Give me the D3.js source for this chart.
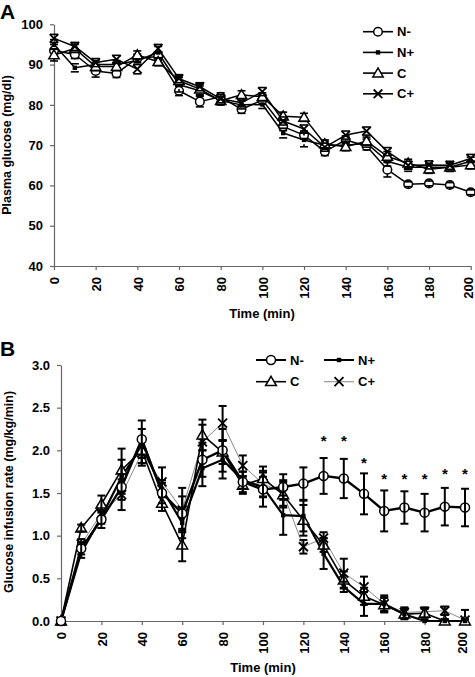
<!DOCTYPE html>
<html><head><meta charset="utf-8">
<script src="https://cdn.jsdelivr.net/npm/d3@7"></script>
<style>body{margin:0;background:#fff}svg{display:block;font-family:"Liberation Sans",Arial,sans-serif}</style>
</head><body>
<script>
const times = [0,10,20,30,40,50,60,70,80,90,100,110,120,130,140,150,160,170,180,190,200];
const xTicks = [0,20,40,60,80,100,120,140,160,180,200];
const seriesNames = ["N-","N+","C","C+"];

// Panel A: plasma glucose (mg/dl)
const glucoseNminus = [93.5,92.5,88.4,87.8,91.6,92,83.5,80.8,82,78.9,81.2,74.6,72.5,68.4,71.3,69.8,63.9,60.3,60.5,60.1,58.3];
const glucoseNplus  = [95,89.2,90,90,91,93,85,83.5,81,80,80.1,73,71.3,70,70,70.5,66,64.5,64.5,64.5,66];
const glucoseC      = [92.4,94,89.5,89.5,92.4,90.7,86,83.9,81,82.5,82,77.2,76.9,70.3,69.6,71,67.2,65.5,64,64.5,65.1];
const glucoseCplus  = [96.5,94.5,90.5,91.3,88.9,94,86.5,84.5,81.5,80.5,83.3,76,74,69.5,72.5,73.5,68.4,65,65.1,65,66.7];
const glucoseSemNminus = [1.5,1,1.5,1,1,1,1.2,1.3,1,1,1,1,1,1,1,1,1.8,0.6,0.6,0.6,0.6];
const glucoseSemNplus  = [1.2,1,1,1,1,1.5,1.8,1.2,1,1,1,1.2,1.7,1,1,1,1.2,1,1,1,1];
const glucoseSemC      = [1.5,1,1,1,1,1,1.2,1.3,1,1,1,1,1,1,1,1,1.2,1,1,1,1];
const glucoseSemCplus  = [1,1,1,1,1.2,1,1,1,1,1,1,1,1,1,1,1,1,1,1,1,1];
const glucoseTicks = [40,50,60,70,80,90,100];

// Panel B: glucose infusion rate (mg/kg/min)
const girNminus = [0,0.85,1.19,1.57,2.13,1.5,1.26,1.89,2.0,1.63,1.54,1.57,1.61,1.70,1.67,1.49,1.29,1.33,1.27,1.34,1.33];
const girNplus  = [0,0.8,1.22,1.69,2.05,1.55,1.15,1.79,1.89,1.65,1.57,1.24,1.23,0.79,0.40,0.2,0.2,0.08,0,0,0];
const girC      = [0,1.09,1.37,1.77,2.0,1.38,0.89,2.18,1.98,1.59,1.67,1.48,1.18,0.89,0.48,0.29,0.19,0.08,0.09,0,0];
const girCplus  = [0,0.9,1.26,1.48,1.97,1.63,1.3,2.1,2.32,1.82,1.61,1.5,0.87,0.97,0.56,0.40,0.2,0.1,0.11,0.12,0.01];
const girSemNminus = [0,0.07,0.1,0.15,0.22,0.12,0.2,0.2,0.25,0.12,0.2,0.15,0.19,0.21,0.23,0.24,0.24,0.19,0.22,0.22,0.22];
const girSemNplus  = [0,0.06,0.08,0.2,0.2,0.1,0.18,0.21,0.22,0.1,0.12,0.23,0.18,0.18,0.06,0.14,0.08,0.05,0.02,0.02,0.02];
const girSemC      = [0,0.04,0.1,0.25,0.15,0.09,0.19,0.18,0.14,0.1,0.14,0.15,0.18,0.08,0.1,0.1,0.08,0.06,0.05,0.02,0.02];
const girSemCplus  = [0,0.06,0.1,0.18,0.15,0.17,0.26,0.2,0.2,0.12,0.15,0.15,0.08,0.07,0.17,0.12,0.1,0.06,0.05,0.05,0.12];
const girTicks = [0,0.5,1.0,1.5,2.0,2.5,3.0];
const sigTimes = [130,140,150,160,170,180,190,200];
const sigLevels = [2.17,2.17,1.92,1.73,1.73,1.73,1.79,1.79];

const W = 475, H = 677;
const svg = d3.select("body").append("svg").attr("width", W).attr("height", H);
const axisColor = "#666";

function marker(g, type, size) {
  const s = size;
  if (type === "N-") g.append("circle").attr("r", s).attr("fill", "#fff").attr("stroke", "#000").attr("stroke-width", 1.5);
  else if (type === "N+") g.append("rect").attr("x", -2.2).attr("y", -2.2).attr("width", 4.4).attr("height", 4.4).attr("fill", "#000");
  else if (type === "C") g.append("path").attr("d", d3.symbol(d3.symbolTriangle, s * s * 2.5)()).attr("transform", "translate(0,0.8)").attr("fill", "#fff").attr("stroke", "#000").attr("stroke-width", 1.5);
  else g.append("path").attr("d", `M${-s},${-s}L${s},${s}M${-s},${s}L${s},${-s}`).attr("stroke", "#000").attr("stroke-width", 1.8).attr("fill", "none");
}

function panel(cfg) {
  const x = d3.scaleLinear().domain([0, 200]).range([cfg.left, cfg.right]);
  const y = d3.scaleLinear().domain(cfg.domain).range([cfg.bottom, cfg.top]);
  const g = svg.append("g");

  const ya = g.append("g").attr("transform", `translate(${cfg.left},0)`)
    .call(d3.axisLeft(y).tickValues(cfg.yTicks).tickFormat(cfg.yFmt).tickSize(4).tickSizeOuter(0).tickPadding(7));
  ya.select(".domain").attr("stroke", axisColor).attr("stroke-width", 1.2);
  ya.selectAll(".tick line").attr("stroke", axisColor).attr("stroke-width", 1.2);
  ya.selectAll("text").attr("font-size", 13).attr("font-weight", "bold").attr("fill", "#000").attr("font-family", "Liberation Sans, Arial");

  const xa = g.append("g").attr("transform", `translate(0,${cfg.bottom})`)
    .call(d3.axisBottom(x).tickValues(xTicks).tickSize(4).tickSizeOuter(0));
  xa.select(".domain").attr("stroke", axisColor).attr("stroke-width", 1.2);
  xa.selectAll(".tick line").attr("stroke", axisColor).attr("stroke-width", 1.2);
  xa.selectAll("text").attr("font-size", 13).attr("font-weight", "bold").attr("fill", "#000")
    .attr("font-family", "Liberation Sans, Arial")
    .attr("text-anchor", "end").attr("transform", "rotate(-90)")
    .attr("x", -11).attr("y", 0).attr("dy", (d) => d === 200 ? "0.15em" : "0.36em");

  g.append("text").attr("x", cfg.xTitleX).attr("y", cfg.xTitleY).attr("text-anchor", "middle")
    .attr("font-size", 13).attr("font-weight", "bold").text("Time (min)");
  g.append("text").attr("transform", `translate(${cfg.yTitleX},${cfg.yTitleY}) rotate(-90)`).attr("text-anchor", "middle")
    .attr("font-size", cfg.yTitleSize).attr("font-weight", "bold").text(cfg.yTitle);
  g.append("text").attr("x", 0).attr("y", cfg.letterY).attr("font-size", 21).attr("font-weight", "bold").text(cfg.letter);

  const line = d3.line().x((d, i) => x(times[i])).y(d => y(d));
  cfg.series.forEach(s => {
    g.append("path").datum(s.values).attr("d", line).attr("fill", "none")
      .attr("stroke", s.stroke).attr("stroke-width", s.width).attr("stroke-linejoin", "round");
  });
  cfg.series.forEach(s => {
    s.values.forEach((v, i) => {
      const mg = g.append("g").attr("transform", `translate(${x(times[i])},${y(v)})`);
      marker(mg, s.name, cfg.msize);
    });
    s.values.forEach((v, i) => {
      const e = s.sem[i];
      if (!e) return;
      const cx = x(times[i]);
      const lo = Math.max(cfg.domain[0], v - e), hi = v + e;
      const eg = g.append("g").attr("stroke", "#000").attr("stroke-width", cfg.ebw);
      if (cfg.crossBars) eg.append("line").attr("x1", cx).attr("x2", cx).attr("y1", y(lo)).attr("y2", y(hi));
      else {
        eg.append("line").attr("x1", cx).attr("x2", cx).attr("y1", y(hi)).attr("y2", y(v) - cfg.msize);
        eg.append("line").attr("x1", cx).attr("x2", cx).attr("y1", y(lo)).attr("y2", y(v) + cfg.msize);
      }
      eg.append("line").attr("x1", cx - 4).attr("x2", cx + 4).attr("y1", y(hi)).attr("y2", y(hi));
      if (v - e >= cfg.domain[0]) eg.append("line").attr("x1", cx - 4).attr("x2", cx + 4).attr("y1", y(lo)).attr("y2", y(lo));
    });
  });
  return { x, y, g };
}

// ---- Panel A ----
const A = panel({
  left: 54, right: 470.7, top: 24.3, bottom: 266, domain: [40, 100], yTicks: glucoseTicks, yFmt: d3.format("d"),
  xTitleX: 262, xTitleY: 318, yTitleX: 11, yTitleY: 145, yTitleSize: 12.5,
  yTitle: "Plasma glucose (mg/dl)", letter: "A", letterY: 19, msize: 4.3, ebw: 1.6, crossBars: false,
  series: [
    { name: "N-", values: glucoseNminus, sem: glucoseSemNminus, stroke: "#000", width: 1.5 },
    { name: "N+", values: glucoseNplus, sem: glucoseSemNplus, stroke: "#000", width: 1.5 },
    { name: "C", values: glucoseC, sem: glucoseSemC, stroke: "#000", width: 1.5 },
    { name: "C+", values: glucoseCplus, sem: glucoseSemCplus, stroke: "#000", width: 1.5 }
  ]
});
seriesNames.forEach((n, i) => {
  const yy = 31.7 + i * 20.7;
  const lg = svg.append("g");
  lg.append("line").attr("x1", 363).attr("x2", 393).attr("y1", yy).attr("y2", yy).attr("stroke", "#000").attr("stroke-width", 1.6);
  marker(lg.append("g").attr("transform", `translate(378,${yy})`), n, 4.3);
  lg.append("text").attr("x", 397).attr("y", yy).attr("dy", "0.36em").attr("font-size", 13).attr("font-weight", "bold").text(n);
});

// ---- Panel B ----
const B = panel({
  left: 61, right: 465, top: 365, bottom: 621, domain: [0, 3], yTicks: girTicks, yFmt: d3.format(".1f"),
  xTitleX: 263, xTitleY: 672, yTitleX: 13, yTitleY: 492, yTitleSize: 12.5,
  yTitle: "Glucose infusion rate (mg/kg/min)", letter: "B", letterY: 356, msize: 4.5, ebw: 2, crossBars: true,
  series: [
    { name: "C+", values: girCplus, sem: girSemCplus, stroke: "#888", width: 1 },
    { name: "C", values: girC, sem: girSemC, stroke: "#000", width: 1.6 },
    { name: "N+", values: girNplus, sem: girSemNplus, stroke: "#000", width: 2.2 },
    { name: "N-", values: girNminus, sem: girSemNminus, stroke: "#000", width: 2.4 }
  ]
});
sigTimes.forEach((t, i) => {
  B.g.append("text").attr("x", B.x(t)).attr("y", B.y(sigLevels[i])).attr("dy", "0.7em").attr("text-anchor", "middle")
    .attr("font-size", 15).attr("font-weight", "bold").text("*");
});
const legB = [
  { n: "N-", x: 256, y: 360, stroke: "#000", w: 2 },
  { n: "N+", x: 324, y: 360, stroke: "#000", w: 2 },
  { n: "C", x: 256, y: 381.7, stroke: "#000", w: 1.6 },
  { n: "C+", x: 324, y: 381.7, stroke: "#999", w: 1.2 }
];
legB.forEach(d => {
  const lg = svg.append("g");
  lg.append("line").attr("x1", d.x).attr("x2", d.x + 30).attr("y1", d.y).attr("y2", d.y).attr("stroke", d.stroke).attr("stroke-width", d.w);
  marker(lg.append("g").attr("transform", `translate(${d.x + 15},${d.y})`), d.n, 4.5);
  lg.append("text").attr("x", d.x + 34).attr("y", d.y).attr("dy", "0.36em").attr("font-size", 13).attr("font-weight", "bold").text(d.n);
});
</script>
</body></html>
